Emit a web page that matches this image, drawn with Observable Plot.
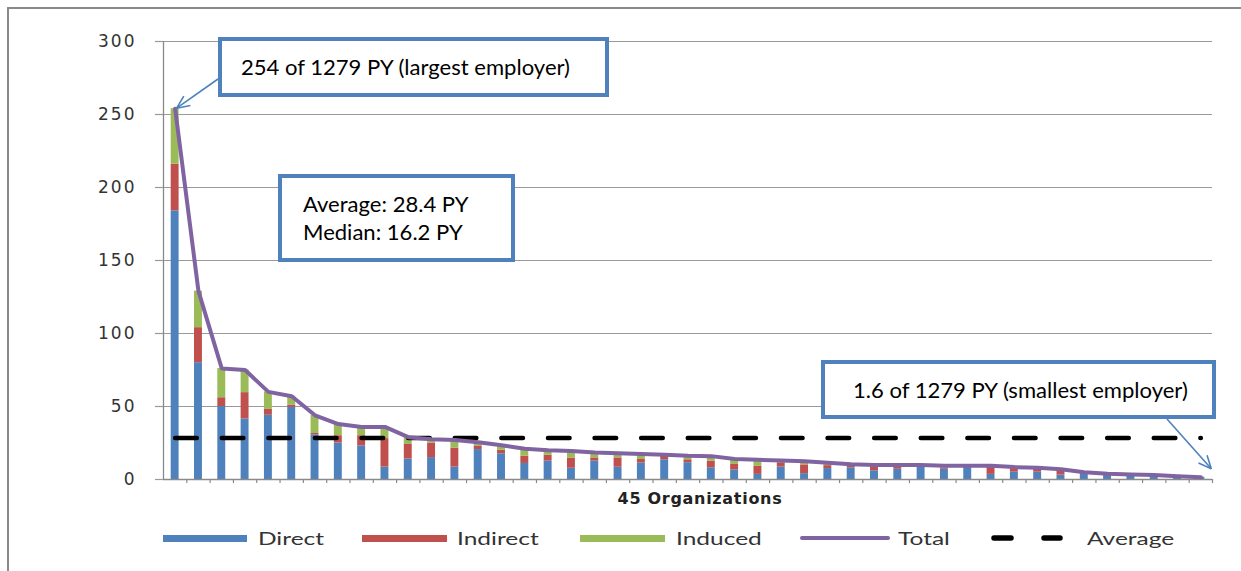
<!DOCTYPE html>
<html><head><meta charset="utf-8">
<script src="https://cdn.jsdelivr.net/npm/d3@7"></script>
<script src="https://cdn.jsdelivr.net/npm/@observablehq/plot@0.6"></script>
<style>
body{margin:0;background:#fff;}
#wrap{position:relative;width:1241px;height:571px;overflow:hidden;font-family:Lato,sans-serif;background:#fff;}
#frame{position:absolute;left:7px;top:7px;width:1300px;height:600px;border-left:2px solid #8a8a8a;border-top:2px solid #8a8a8a;}
#chart{position:absolute;left:0;top:0;}
.box{position:absolute;background:#fff;border:4px solid #4f81bd;box-sizing:border-box;color:#000;font-size:21px;line-height:28px;}
.box span{display:inline-block;transform-origin:0 50%;}
#legend{position:absolute;top:526px;left:0;width:1241px;height:24px;}
.lt{position:absolute;top:0;height:24px;line-height:24px;font-size:18px;color:#333;transform-origin:0 50%;white-space:nowrap;}
.sw{position:absolute;}
#arrows{position:absolute;left:0;top:0;pointer-events:none;}
</style></head>
<body><div id="wrap"><div id="frame"></div><div id="chart"></div><div id="legend"></div></div>
<script>
// ---- data ----
const organizations = ["1","2","3","4","5","6","7","8","9","10","11","12","13","14","15","16","17","18","19","20","21","22","23","24","25","26","27","28","29","30","31","32","33","34","35","36","37","38","39","40","41","42","43","44","45"];
const direct   = [184,80,50,41.5,44,49.5,30.5,25,23,8.5,14,15,8.5,20.5,17.6,11,12.6,7.7,12.6,8.4,11.2,13.5,11.5,8,6.6,3.5,8.5,4,7.5,8,6,7,9,7,8.8,3.5,5,5,3,3.5,3.5,3,2.5,2,1.3];
const indirect = [32,24,6,18,4,1.5,1,5,7,19.5,10,10,13,2.5,2.4,5,4,7,2.2,6.4,2.5,2.3,2,4.6,3.7,5.5,3,6,2,1.5,3,2,0.5,1,0.3,5.5,2.5,2,2.5,1,0.3,0.3,0.3,0.2,0.2];
const induced  = [38,25,20,15.5,12,6,12.5,8,6,8,5,2.5,5.5,2.5,3.5,5,3.4,4.8,3.7,3.2,3.8,1.2,2.7,3.4,3.7,4.5,1.5,2.5,2,1,1,1,0.5,1.5,0.4,0.5,1,1,1.5,0.5,0.2,0.2,0.2,0.1,0.1];
const total    = [254,129,76,75,60,57,44,38,36,36,29,27.5,27,25.5,23.5,21,20,19.5,18.5,18,17.5,17,16.2,16,14,13.5,13,12.5,11.5,10.5,10,10,10,9.5,9.5,9.5,8.5,8,7,5,4,3.5,3,2.3,1.6];
const average = 28.4;
const components = ["Direct","Indirect","Induced"];
const componentColors = ["#4f81bd","#c0504d","#9bbb59"];
const totalName = "Total", averageName = "Average";
const yTicks = [0,50,100,150,200,250,300];
const xLabel = "45 Organizations";
const notes = {
  largest: "254 of 1279 PY (largest employer)",
  stats: ["Average: 28.4 PY","Median: 16.2 PY"],
  smallest: "1.6 of 1279 PY (smallest employer)"
};

// ---- build ----
const series = [direct, indirect, induced];
const stacked = components.flatMap((c,k) => series[k].map((v,i) => ({org: organizations[i], component: c, value: v})));
const totals = organizations.map((o,i) => ({org:o, value: total[i]}));
const avgRows = organizations.map(o => ({org:o, value: average}));

const W = 1241, H = 510, mL = 163, mR = 29, mT = 41, mB = 31;
const step = (W - mL - mR) / organizations.length;

const chart = Plot.plot({
  width: W, height: H,
  marginLeft: mL, marginRight: mR, marginTop: mT, marginBottom: mB,
  style: {fontFamily: "DejaVu Sans, sans-serif", background: "transparent"},
  x: {type: "band", domain: organizations, paddingInner: 0.66, paddingOuter: 0.33, round: false, axis: null},
  y: {domain: [0, 300], axis: null},
  color: {domain: components, range: componentColors},
  marks: [
    Plot.gridY(yTicks.slice(1), {stroke: "#9a9a9a", strokeOpacity: 1, strokeWidth: 1.2}),
    Plot.axisY(yTicks, {tickSize: 8, tickPadding: 19, label: null, fontSize: 17, fill: "#333", stroke: "#9a9a9a", strokeOpacity: 1, strokeWidth: 1.2}),
    Plot.barY(stacked, {x: "org", y: "value", fill: "component", order: components}),
    Plot.ruleX([organizations[0]], {x: d => d, dx: -step/2, y1: 0, y2: 300, stroke: "#8a8a8a", strokeWidth: 1.3}),
    Plot.ruleY([0], {stroke: "#8a8a8a", strokeWidth: 1.3}),
    Plot.ruleX(organizations, {x: d => d, dx: step/2, y1: 0, y2: -2.8, stroke: "#8a8a8a", strokeWidth: 1.2}),
    Plot.line(avgRows, {x: "org", y: "value", stroke: "#000", strokeWidth: 4.5, strokeDasharray: "21.6,25", strokeLinecap: "round"}),
    Plot.line(totals, {x: "org", y: "value", stroke: "#8064a2", strokeWidth: 4, strokeLinejoin: "round"}),
    Plot.text([xLabel], {frameAnchor: "bottom", dx: 12, dy: 19, fontWeight: "bold", fontSize: 16, fill: "#222", lineAnchor: "middle"})
  ]
});
document.getElementById("chart").appendChild(chart);
chart.querySelectorAll('g[aria-label="y-axis tick label"] text').forEach(t => t.style.letterSpacing = "2px");
chart.querySelectorAll('g[aria-label="text"] text').forEach(t => t.style.letterSpacing = "0.7px");

// ---- annotation boxes ----
const wrap = document.getElementById("wrap");
function box(left, top, w, h, lines, padL) {
  const b = document.createElement("div");
  b.className = "box";
  Object.assign(b.style, {left: left+"px", top: top+"px", width: w+"px", height: h+"px", paddingLeft: padL+"px", display: "flex", flexDirection: "column", justifyContent: "center"});
  lines.forEach(s => { const d = document.createElement("div"); const sp = document.createElement("span"); sp.textContent = s; sp.style.transform = "scaleX(1.05)"; d.appendChild(sp); b.appendChild(d); });
  wrap.appendChild(b);
  return b;
}
box(218, 37, 391, 60, [notes.largest], 19);
box(278, 174, 237, 88, notes.stats, 21);
box(821, 360, 395, 59, [notes.smallest], 28);

// ---- arrows (endpoints from Plot scales) ----
const xs = chart.scale("x"), ys = chart.scale("y");
const cx = o => xs.apply(o) + xs.bandwidth/2;
const svg = d3.select(wrap).append("svg").attr("id","arrows").attr("width", W).attr("height", 571);
function arrow(x0, y0, x1, y1) {
  const g = svg.append("g").attr("stroke", "#4f81bd").attr("stroke-width", 1.6).attr("fill", "none");
  g.append("line").attr("x1", x0).attr("y1", y0).attr("x2", x1).attr("y2", y1);
  const a = Math.atan2(y0 - y1, x0 - x1), L = 14, s = 0.42;
  [a - s, a + s].forEach(t => g.append("line").attr("x1", x1).attr("y1", y1).attr("x2", x1 + L*Math.cos(t)).attr("y2", y1 + L*Math.sin(t)));
}
arrow(218, 79, cx(organizations[0]) + 2, ys.apply(total[0]));
const last = organizations[organizations.length-1];
arrow(1167, 419, cx(last) + step*0.47, ys.apply(total[total.length-1]) - 8);

// ---- legend ----
const legend = document.getElementById("legend");
const legendLayout = [
  {sw: 163, w: 84, tx: 258}, {sw: 362, w: 85, tx: 457}, {sw: 580, w: 85, tx: 676},
  {sw: 800, w: 90, tx: 898}, {sw: 990, w: 74, tx: 1087}
];
const items = components.map((c,k) => ({name: c, color: componentColors[k], kind: "bar"}))
  .concat([{name: totalName, color: "#8064a2", kind: "line"}, {name: averageName, color: "#000", kind: "dash"}]);
items.forEach((it, k) => {
  const L = legendLayout[k];
  if (it.kind === "dash") {
    const s = d3.select(legend).append("svg").attr("class","sw").style("left", L.sw+"px").style("top","0px").attr("width", L.w).attr("height", 24);
    s.append("line").attr("x1", 4).attr("x2", L.w-4).attr("y1", 12).attr("y2", 12).attr("stroke", "#000").attr("stroke-width", 5.5).attr("stroke-linecap","round").attr("stroke-dasharray","17,33");
  } else {
    const d = document.createElement("div");
    d.className = "sw";
    const th = it.kind === "bar" ? 7 : 4;
    Object.assign(d.style, {left: L.sw+"px", width: L.w+"px", top: (12 - th/2)+"px", height: th+"px", background: it.color, borderRadius: it.kind === "line" ? "2px" : "0"});
    legend.appendChild(d);
  }
  const t = document.createElement("div");
  t.className = "lt"; t.textContent = it.name;
  t.style.left = L.tx + "px";
  t.style.transform = "scaleX(1.36)";
  legend.appendChild(t);
});
</script>
</body></html>
